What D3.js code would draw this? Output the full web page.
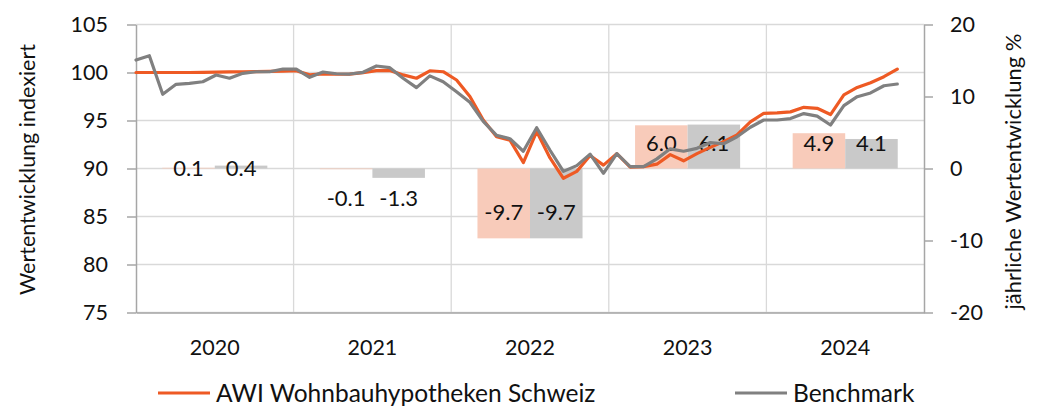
<!DOCTYPE html>
<html>
<head>
<meta charset="utf-8">
<script src="https://cdn.jsdelivr.net/npm/d3@7"></script>
<style>
  body { margin: 0; background: #fff; }
  svg { font-family: Lato, "Noto Sans", sans-serif; }
</style>
</head>
<body>
<div id="chart"></div>
<script>
// Chart data
const years = ["2020", "2021", "2022", "2023", "2024"];
const monthNames = ["01", "02", "03", "04", "05", "06", "07", "08", "09", "10", "11", "12"];

// monthly index values, Jan 2020 .. Oct 2024
const awiIndex = [
    100.0, 100.0, 100.0, 100.0, 100.0, 100.02, 100.04, 100.06, 100.08, 100.1, 100.12, 100.15,
    100.18, 99.75, 99.85, 99.82, 99.84, 99.98, 100.2, 100.22, 99.75, 99.4, 100.18, 100.08,
    99.22, 97.5, 95.05, 93.3, 92.95, 90.62, 93.85, 91.1, 88.98, 89.7, 91.35, 90.35,
    91.55, 90.15, 90.2, 90.45, 91.45, 90.8, 91.55, 92.2, 92.8, 93.5, 94.85, 95.75,
    95.8, 95.9, 96.37, 96.27, 95.62, 97.66, 98.44, 98.94, 99.56, 100.35
];
const benchIndex = [
    101.3, 101.75, 97.73, 98.77, 98.87, 99.04, 99.74, 99.4, 99.91, 100.08, 100.08, 100.36,
    100.36, 99.5, 100.05, 99.87, 99.84, 100.02, 100.68, 100.5, 99.4, 98.42, 99.65, 99.04,
    98.0, 96.9, 94.9, 93.45, 93.1, 91.8, 94.25, 91.9, 89.7, 90.3, 91.5, 89.5,
    91.55, 90.2, 90.2, 91.0, 92.05, 91.8, 92.1, 92.7, 92.58, 93.3, 94.3, 95.05,
    95.05, 95.2, 95.72, 95.45, 94.53, 96.55, 97.48, 97.87, 98.62, 98.8
];

// yearly change in %
const awiAnnual = [0.1, -0.1, -9.7, 6.0, 4.9];
const benchAnnual = [0.4, -1.3, -9.7, 6.1, 4.1];

const seriesNames = ["AWI Wohnbauhypotheken Schweiz", "Benchmark"];
const leftTicks = [75, 80, 85, 90, 95, 100, 105];
const rightTicks = [-20, -10, 0, 10, 20];

// Layout
const width = 1048, height = 406;
const plot = { left: 136, right: 924, top: 24.5, bottom: 312.5 };
const lineColors = ["#EE5A24", "#808080"];
const barColors = ["#F8CBBA", "#C9C9C9"];
const gridColor = "#D9D9D9";
const axisColor = "#A6A6A6";
const textColor = "#111";

const svg = d3.select("#chart").append("svg")
    .attr("width", width)
    .attr("height", height);

// Scales
const months = years.flatMap(y => monthNames.map(m => y + "-" + m));
const xMonth = d3.scalePoint().domain(months).range([plot.left, plot.right]);
const xYear = d3.scaleBand().domain(years).range([plot.left, plot.right]);
const xSeries = d3.scaleBand().domain(seriesNames).range([0, xYear.bandwidth()]).paddingOuter(0.5);
const yLeft = d3.scaleLinear().domain([75, 105]).range([plot.bottom, plot.top]);
const yRight = d3.scaleLinear().domain([-20, 20]).range([plot.bottom, plot.top]);

// Grid
svg.append("g")
    .selectAll("line")
    .data(leftTicks)
    .enter().append("line")
    .attr("x1", plot.left).attr("x2", plot.right)
    .attr("y1", d => yLeft(d)).attr("y2", d => yLeft(d))
    .attr("stroke", gridColor)
    .attr("stroke-width", 1.3);

svg.append("g")
    .selectAll("line")
    .data(years.slice(1))
    .enter().append("line")
    .attr("x1", d => xYear(d)).attr("x2", d => xYear(d))
    .attr("y1", plot.top).attr("y2", plot.bottom)
    .attr("stroke", gridColor)
    .attr("stroke-width", 1.3);

// Bars (yearly change, right axis)
const barData = years.map((y, i) => ({ year: y, values: [awiAnnual[i], benchAnnual[i]] }));

const barGroup = svg.append("g")
    .selectAll("g")
    .data(barData)
    .enter().append("g")
    .attr("transform", d => `translate(${xYear(d.year)},0)`);

barGroup.selectAll("rect")
    .data(d => d.values.map((v, k) => ({ name: seriesNames[k], v, k })))
    .enter().append("rect")
    .attr("x", d => xSeries(d.name))
    .attr("width", xSeries.bandwidth())
    .attr("y", d => yRight(Math.max(0, d.v)))
    .attr("height", d => Math.abs(yRight(d.v) - yRight(0)))
    .attr("fill", d => barColors[d.k]);

// label level per year, in right-axis units
const labelLevel = [0, -4.1, -6.0, 3.5, 3.5];

barGroup.selectAll("text")
    .data((d, i) => d.values.map((v, k) => ({ name: seriesNames[k], v, lvl: labelLevel[i] })))
    .enter().append("text")
    .attr("x", d => xSeries(d.name) + xSeries.bandwidth() / 2)
    .attr("y", d => yRight(d.lvl))
    .attr("dy", "0.36em")
    .attr("text-anchor", "middle")
    .attr("font-size", 22)
    .attr("fill", textColor)
    .text(d => d.v.toFixed(1));

// Axes
const leftAxis = svg.append("g")
    .attr("transform", `translate(${plot.left},0)`)
    .call(d3.axisLeft(yLeft).tickValues(leftTicks).tickFormat(d => String(d))
        .tickSize(9).tickSizeOuter(0).tickPadding(19));

const rightAxis = svg.append("g")
    .attr("transform", `translate(${plot.right},0)`)
    .call(d3.axisRight(yRight).tickValues(rightTicks).tickFormat(d => String(d))
        .tickSize(9).tickSizeOuter(0).tickPadding(17));

const bottomAxis = svg.append("g")
    .attr("transform", `translate(0,${plot.bottom})`)
    .call(d3.axisBottom(xYear).tickSize(0).tickPadding(27));

[leftAxis, rightAxis, bottomAxis].forEach(ax => {
    ax.selectAll("path, line").attr("stroke", axisColor).attr("stroke-width", 1.5);
    ax.selectAll("text")
        .attr("font-family", "Lato, 'Noto Sans', sans-serif")
        .attr("font-size", 21.5)
        .attr("fill", textColor);
});

// Index lines (left axis)
const line = d3.line()
    .x((d, i) => xMonth(months[i]))
    .y(d => yLeft(d));

[awiIndex, benchIndex].forEach((series, k) => {
    svg.append("path")
        .datum(series)
        .attr("fill", "none")
        .attr("stroke", lineColors[k])
        .attr("stroke-width", 3.2)
        .attr("stroke-linejoin", "round")
        .attr("stroke-linecap", "round")
        .attr("d", line);
});

// Axis titles
svg.append("text")
    .attr("transform", `translate(27,${(plot.top + plot.bottom) / 2 + 1}) rotate(-90)`)
    .attr("text-anchor", "middle")
    .attr("dy", "0.35em")
    .attr("font-size", 21.5)
    .attr("fill", textColor)
    .text("Wertentwicklung indexiert");

svg.append("text")
    .attr("transform", `translate(1013,${(plot.top + plot.bottom) / 2 + 3}) rotate(-90)`)
    .attr("text-anchor", "middle")
    .attr("dy", "0.35em")
    .attr("font-size", 22)
    .attr("fill", textColor)
    .text("jährliche Wertentwicklung %");

// Legend
const legendX = [158, 735];
const legend = svg.append("g").attr("transform", "translate(0,393)");

seriesNames.forEach((name, k) => {
    legend.append("line")
        .attr("x1", legendX[k]).attr("x2", legendX[k] + 52)
        .attr("y1", 0).attr("y2", 0)
        .attr("stroke", lineColors[k])
        .attr("stroke-width", 3.2);
    legend.append("text")
        .attr("x", legendX[k] + 58)
        .attr("y", 0)
        .attr("dy", "0.36em")
        .attr("font-size", 24.5)
        .attr("fill", textColor)
        .text(name);
});
</script>
</body>
</html>
